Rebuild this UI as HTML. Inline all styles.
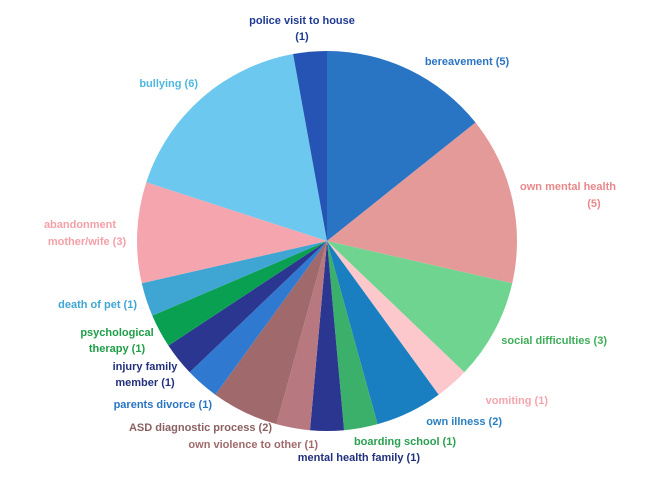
<!DOCTYPE html>
<html><head><meta charset="utf-8"><style>
body{margin:0;background:#fff;width:650px;height:475px;overflow:hidden}
text{font-family:"Liberation Sans",sans-serif;font-size:11px;font-weight:bold}
</style></head><body>
<svg id="s" width="650" height="475" xmlns="http://www.w3.org/2000/svg">
<g id="p"></g>
<text x="302" y="24" text-anchor="middle" fill="#1f3a93">police visit to house</text>
<text x="302" y="40" text-anchor="middle" fill="#1f3a93">(1)</text>
<text x="467" y="65" text-anchor="middle" fill="#2a74c4">bereavement (5)</text>
<text x="616" y="190" text-anchor="end" fill="#e8888a">own mental health</text>
<text x="594" y="207" text-anchor="middle" fill="#e8888a">(5)</text>
<text x="607" y="344" text-anchor="end" fill="#3fae5a">social difficulties (3)</text>
<text x="548" y="404" text-anchor="end" fill="#f4a5ae">vomiting (1)</text>
<text x="502" y="425" text-anchor="end" fill="#2a7fc0">own illness (2)</text>
<text x="456" y="445" text-anchor="end" fill="#2aa050">boarding school (1)</text>
<text x="420" y="461" text-anchor="end" fill="#22307e">mental health family (1)</text>
<text x="318" y="448" text-anchor="end" fill="#a06a6c">own violence to other (1)</text>
<text x="272" y="431" text-anchor="end" fill="#8a6060">ASD diagnostic process (2)</text>
<text x="212" y="408" text-anchor="end" fill="#2a74c4">parents divorce (1)</text>
<text x="145" y="370" text-anchor="middle" fill="#22307e">injury family</text>
<text x="145" y="386" text-anchor="middle" fill="#22307e">member (1)</text>
<text x="117" y="336" text-anchor="middle" fill="#1e9e48">psychological</text>
<text x="117" y="352" text-anchor="middle" fill="#1e9e48">therapy (1)</text>
<text x="137" y="308" text-anchor="end" fill="#3fa6d4">death of pet (1)</text>
<text x="80" y="228" text-anchor="middle" fill="#f4a0a8">abandonment</text>
<text x="87" y="245" text-anchor="middle" fill="#f4a0a8">mother/wife (3)</text>
<text x="198" y="87" text-anchor="end" fill="#4fb8e0">bullying (6)</text>
</svg>
<script>
var d=[[5,"#2a74c4"],[5,"#e59a9a"],[3,"#6fd48f"],[1,"#fcc8cc"],[2,"#1a7fc1"],[1,"#3bb06a"],[1,"#2a3690"],[1,"#b87880"],[2,"#a06a6c"],[1,"#2f7ad0"],[1,"#2a3690"],[1,"#0aa052"],[1,"#3fa6d4"],[3,"#f4a5ae"],[6,"#6dc8ef"],[1,"#2654b4"]];
var cx=327,cy=241,r=190,a=0,g=document.getElementById("p"),h="";
d.forEach(function(e){var b=a+e[0]/35*2*Math.PI;
var x1=cx+r*Math.sin(a),y1=cy-r*Math.cos(a),x2=cx+r*Math.sin(b),y2=cy-r*Math.cos(b);
h+='<path d="M'+cx+' '+cy+'L'+x1+' '+y1+'A'+r+' '+r+' 0 '+((b-a)>Math.PI?1:0)+' 1 '+x2+' '+y2+'Z" fill="'+e[1]+'"/>';a=b;});
g.innerHTML=h;
</script>
</body></html>
